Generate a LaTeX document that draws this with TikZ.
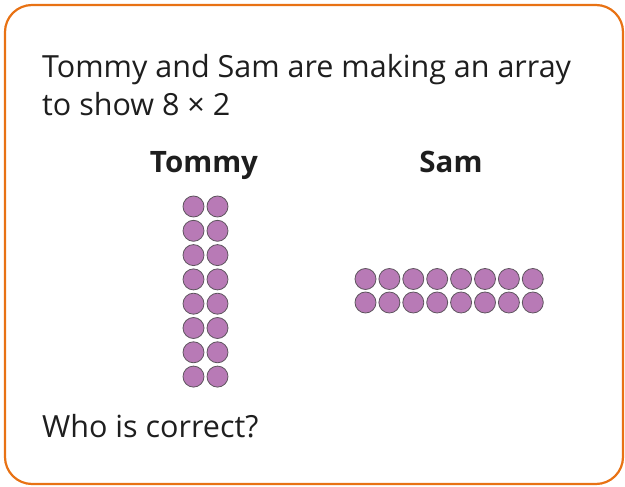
\documentclass[tikz,border=0pt]{standalone}
\usepackage{fontspec}
\setmainfont{Open Sans}
\definecolor{frameorange}{RGB}{232,114,20}
\definecolor{dotfill}{RGB}{184,122,182}
\definecolor{dotline}{RGB}{95,85,95}
\definecolor{txt}{RGB}{30,30,30}
\tikzset{
  dot/.style={circle, draw=dotline, fill=dotfill, line width=0.8pt, minimum size=21pt, inner sep=0pt},
  body/.style={anchor=base west, inner sep=0pt, font=\fontsize{30.5}{36}\selectfont, text=txt},
  head/.style={anchor=base, inner sep=0pt, font=\bfseries\fontsize{29.5}{36}\selectfont, text=txt}
}
\begin{document}
\begin{tikzpicture}[x=1pt,y=-1pt]
\useasboundingbox (0,0) rectangle (625,487);
\draw[frameorange, line width=2.2pt, rounded corners=27pt] (5,5) rectangle (623,484);
\node[body] (l1) at (42,78) {Tommy and Sam are making an array};
\node[body] (l2) at (42,116) {to show 8 × 2};
\node[head] (tommy) at (204,173) {Tommy};
\node[head] (sam) at (451,173) {Sam};
\node[body] (q) at (42,437) {Who is correct?};
\foreach \r in {0,...,7} {
  \node[dot] (t1-\r) at (193.5,{206.5+24.3*\r}) {};
  \node[dot] (t2-\r) at (217.5,{206.5+24.3*\r}) {};
}
\foreach \c in {0,...,7} {
  \node[dot] (s1-\c) at ({365.5+23.9*\c},279) {};
  \node[dot] (s2-\c) at ({365.5+23.9*\c},302.5) {};
}
\end{tikzpicture}
\end{document}
